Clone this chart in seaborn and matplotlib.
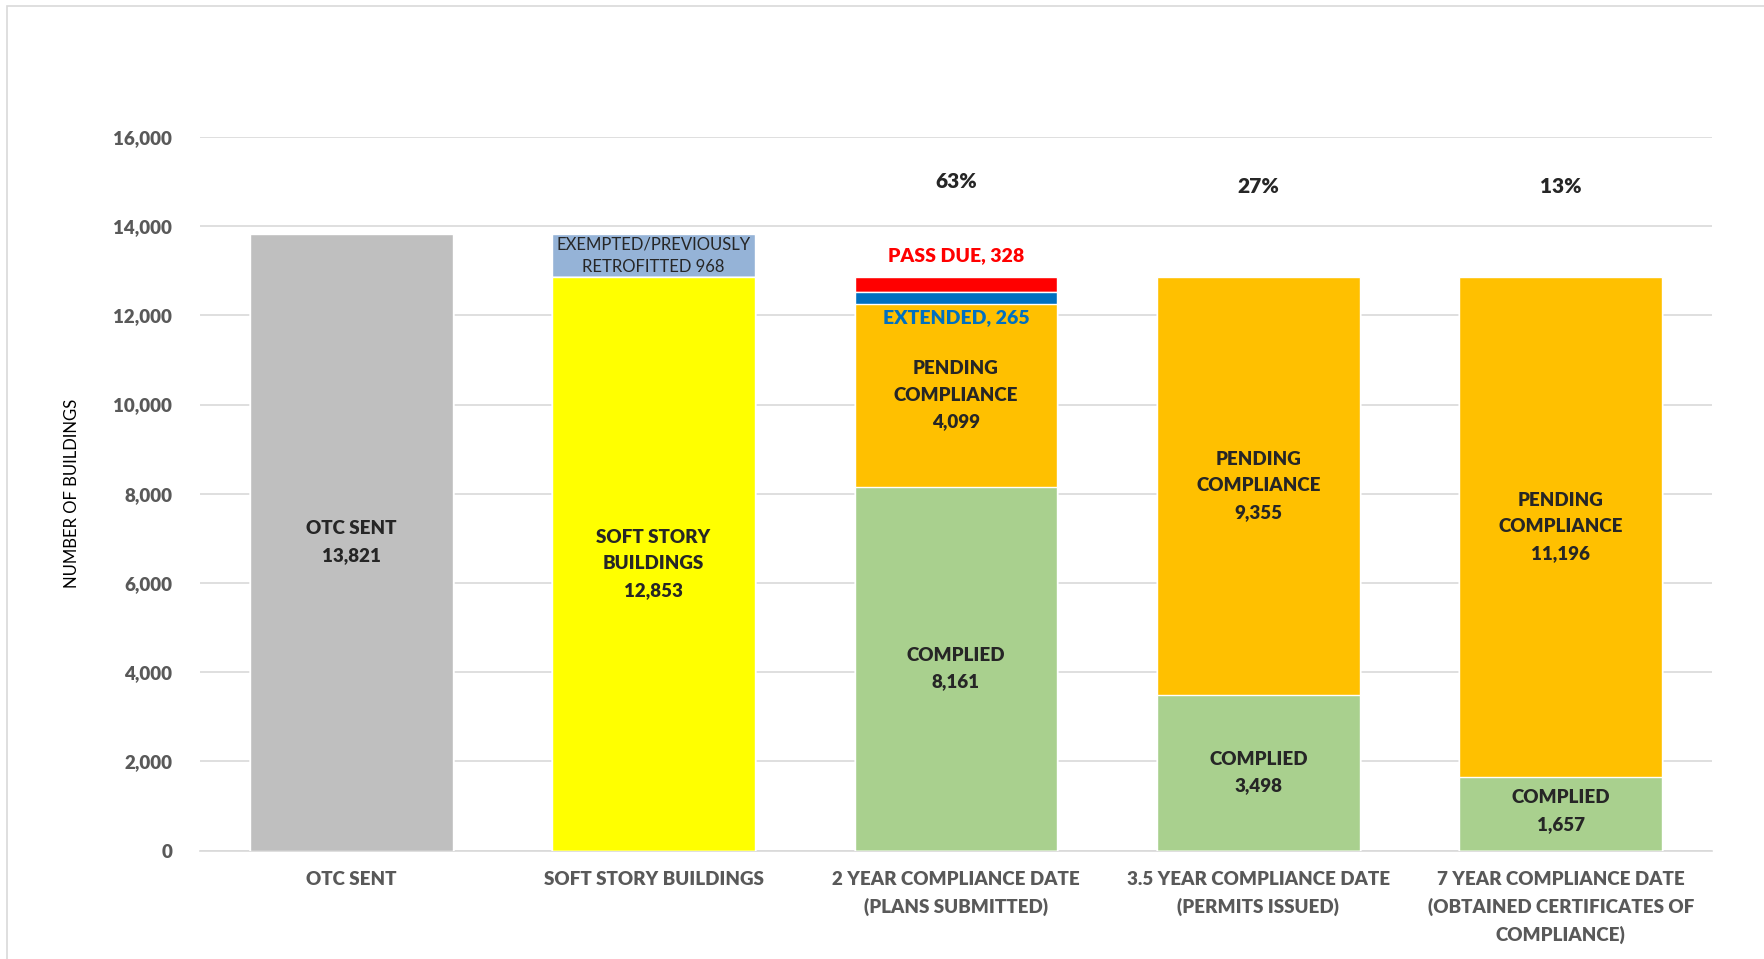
"""
ソフトストーリー建物の耐震改修プログラム進捗チャート
"""

import matplotlib.pyplot as plt
import matplotlib.patches as mpatches
import seaborn as sns
import pandas as pd
import numpy as np

sns.set_style("white")
plt.rcParams['font.family'] = ['Lato', 'DejaVu Sans']

# データ
categories = [
    "OTC SENT",
    "SOFT STORY BUILDINGS",
    "2 YEAR COMPLIANCE DATE\n(PLANS SUBMITTED)",
    "3.5 YEAR COMPLIANCE DATE\n(PERMITS ISSUED)",
    "7 YEAR COMPLIANCE DATE\n(OBTAINED CERTIFICATES OF\nCOMPLIANCE)",
]
otc_sent = [13821, 0, 0, 0, 0]
soft_story = [0, 12853, 0, 0, 0]
complied = [0, 0, 8161, 3498, 1657]
pending = [0, 0, 4099, 9355, 11196]
extended = [0, 0, 265, 0, 0]
exempted = [0, 968, 0, 0, 0]
pass_due = [0, 0, 328, 0, 0]
percent_labels = ["", "", "63%", "27%", "13%"]
y_ticks = [0, 2000, 4000, 6000, 8000, 10000, 12000, 14000, 16000]

# 積み上げ順（下から上）
layers = [
    ("otc", otc_sent, "#BFBFBF"),
    ("soft", soft_story, "#FFFF00"),
    ("complied", complied, "#A9D08E"),
    ("pending", pending, "#FFC000"),
    ("extended", extended, "#0070C0"),
    ("exempted", exempted, "#95B3D7"),
    ("pass_due", pass_due, "#FF0000"),
]

BOLD = "heavy"

fig = plt.figure(figsize=(17.64, 9.59), dpi=100)
ax = fig.add_axes([200 / 1764, 1 - 850.5 / 959, 1512 / 1764, (850.5 - 137) / 959])

# 外枠
fig.patches.append(mpatches.Rectangle((7 / 1764, -0.05), 1.2, 1 - 6 / 959 + 0.05,
                                      transform=fig.transFigure, fill=False,
                                      edgecolor="#D9D9D9", linewidth=1.2))

cum = np.zeros(len(categories))
cums = []
for name, vals, color in layers:
    cum = cum + np.array(vals)
    cums.append((name, cum.copy(), color))

# 上の層から順に描画して積み上げを再現
for name, c, color in reversed(cums):
    df = pd.DataFrame({"category": categories, "value": c})
    sns.barplot(data=df, x="category", y="value", color=color, width=0.67,
                saturation=1, ax=ax, zorder=3)

ax.set_ylim(0, 16000)
ax.set_xlim(-0.5, len(categories) - 0.5)
ax.set_yticks(y_ticks)
ax.set_yticklabels([f"{v:,}" for v in y_ticks], fontsize=13.5, fontweight=BOLD,
                   color="#595959")
ax.yaxis.grid(True, color="#D9D9D9", linewidth=1.2, zorder=0)
ax.set_axisbelow(True)
ax.tick_params(axis="y", length=0, pad=20)

ax.set_xticks(range(len(categories)))
ax.set_xticklabels(categories, fontsize=13.5, fontweight=BOLD, color="#595959",
                   linespacing=1.65)
ax.set_xticks(np.arange(-0.5, len(categories)), minor=True)
ax.tick_params(axis="x", which="major", length=0, pad=15)
ax.tick_params(axis="x", which="minor", length=12, color="#D9D9D9", width=1.2)

for s in ["top", "right", "left"]:
    ax.spines[s].set_visible(False)
ax.spines["bottom"].set_color("#D9D9D9")
ax.spines["bottom"].set_linewidth(1.2)

ax.set_xlabel("")
ax.set_ylabel("NUMBER OF BUILDINGS", fontsize=12, color="black", labelpad=24)

# バー内ラベル
lab = dict(ha="center", va="center", fontsize=13.5, fontweight=BOLD,
           linespacing=1.7, zorder=5)
ax.text(0, otc_sent[0] / 2, f"OTC SENT\n{otc_sent[0]:,}", **lab)
ax.text(1, soft_story[1] / 2, f"SOFT STORY\nBUILDINGS\n{soft_story[1]:,}", **lab)
ax.text(1, soft_story[1] + exempted[1] / 2,
        f"EXEMPTED/PREVIOUSLY\nRETROFITTED {exempted[1]:,}",
        ha="center", va="center", fontsize=12, linespacing=1.45, zorder=5)

for i in range(2, 5):
    ax.text(i, complied[i] / 2 - (0 if i < 4 else -50),
            f"COMPLIED\n{complied[i]:,}", **lab)
    ax.text(i, complied[i] + pending[i] / 2,
            f"PENDING\nCOMPLIANCE\n{pending[i]:,}", **lab)
    ax.text(i, 15000 if i == 2 else 14900, percent_labels[i], ha="center",
            va="center", fontsize=15, fontweight=BOLD, zorder=5)

top2 = complied[2] + pending[2] + extended[2]
ax.text(2, top2 - 580, f"EXTENDED, {extended[2]:,}", ha="center", va="center",
        fontsize=14, fontweight=BOLD, color="#0070C0", zorder=5)
ax.text(2, top2 + pass_due[2] + 480, f"PASS DUE, {pass_due[2]:,}", ha="center",
        va="center", fontsize=14, fontweight=BOLD, color="#FF0000", zorder=5)

plt.savefig("out.png", dpi=100)
plt.close()
